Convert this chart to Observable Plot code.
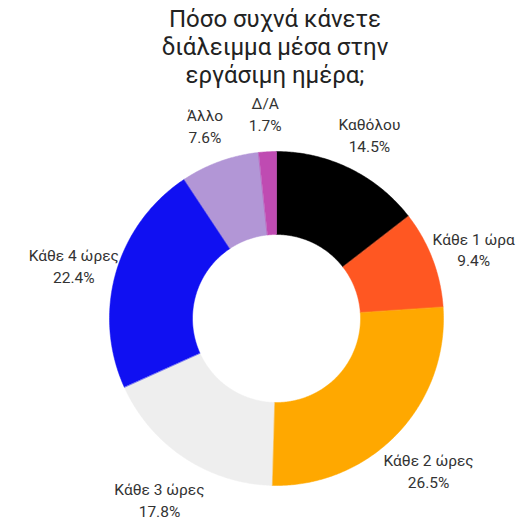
<!DOCTYPE html>
<html><head><meta charset="utf-8">
<script src="https://cdn.jsdelivr.net/npm/d3@7"></script>
<script src="https://cdn.jsdelivr.net/npm/@observablehq/plot@0.6"></script>
<style>
html,body{margin:0;padding:0;background:#fff;font-family:Roboto,sans-serif}
#title{font-size:24px;line-height:28px;text-align:center;color:#222;padding-top:5px;padding-left:25px;height:90px;box-sizing:border-box}
</style></head><body>
<div id="title">Πόσο συχνά κάνετε<br>διάλειμμα μέσα στην<br>εργάσιμη ημέρα;</div>
<div id="chart"></div>
<script>
const categories = ["Καθόλου", "Κάθε 1 ώρα", "Κάθε 2 ώρες", "Κάθε 3 ώρες", "Κάθε 4 ώρες", "Άλλο", "Δ/Α"];
const values = [14.5, 9.4, 26.5, 17.8, 22.4, 7.6, 1.7];
const colors = ["#000000", "#FF5722", "#FFA800", "#EEEEEE", "#1010F2", "#B296D6", "#BF4BB2"];

const W = 525, H = 430;
const cx = 276, cy = 228;
const R = 167, r0 = 84, RL = 211, labelDrop = 5;
const total = d3.sum(values);

const ring = [];
const labels = [];
let acc = 0;
categories.forEach((name, i) => {
  const a0 = acc / total * 2 * Math.PI;
  acc += values[i];
  const a1 = acc / total * 2 * Math.PI;
  const n = Math.max(4, Math.ceil((a1 - a0) / 0.01));
  const pts = [];
  for (let k = 0; k <= n; k++) { const a = a0 + (a1 - a0) * k / n; pts.push([R * Math.sin(a), R * Math.cos(a)]); }
  for (let k = n; k >= 0; k--) { const a = a0 + (a1 - a0) * k / n; pts.push([r0 * Math.sin(a), r0 * Math.cos(a)]); }
  pts.forEach(([x, y]) => ring.push({name, x, y}));
  const am = (a0 + a1) / 2;
  labels.push({name, x: RL * Math.sin(am), y: RL * Math.cos(am) - labelDrop, text: `${name}\n${values[i].toFixed(1)}%`});
});

const chart = Plot.plot({
  width: W, height: H,
  margin: 0,
  x: {domain: [-cx, W - cx], axis: null},
  y: {domain: [-(H - cy), cy], axis: null},
  color: {domain: categories, range: colors},
  style: {fontFamily: "Roboto, sans-serif", background: "#fff"},
  marks: [
    Plot.line(ring, {x: "x", y: "y", z: "name", fill: "name", stroke: "name", strokeWidth: 0.5, curve: "linear-closed"}),
    Plot.text(labels, {x: "x", y: "y", text: "text", fontSize: 15.5, lineHeight: 1.4, fill: "#333", textAnchor: "middle"})
  ]
});
document.getElementById("chart").appendChild(chart);
</script>
</body></html>
